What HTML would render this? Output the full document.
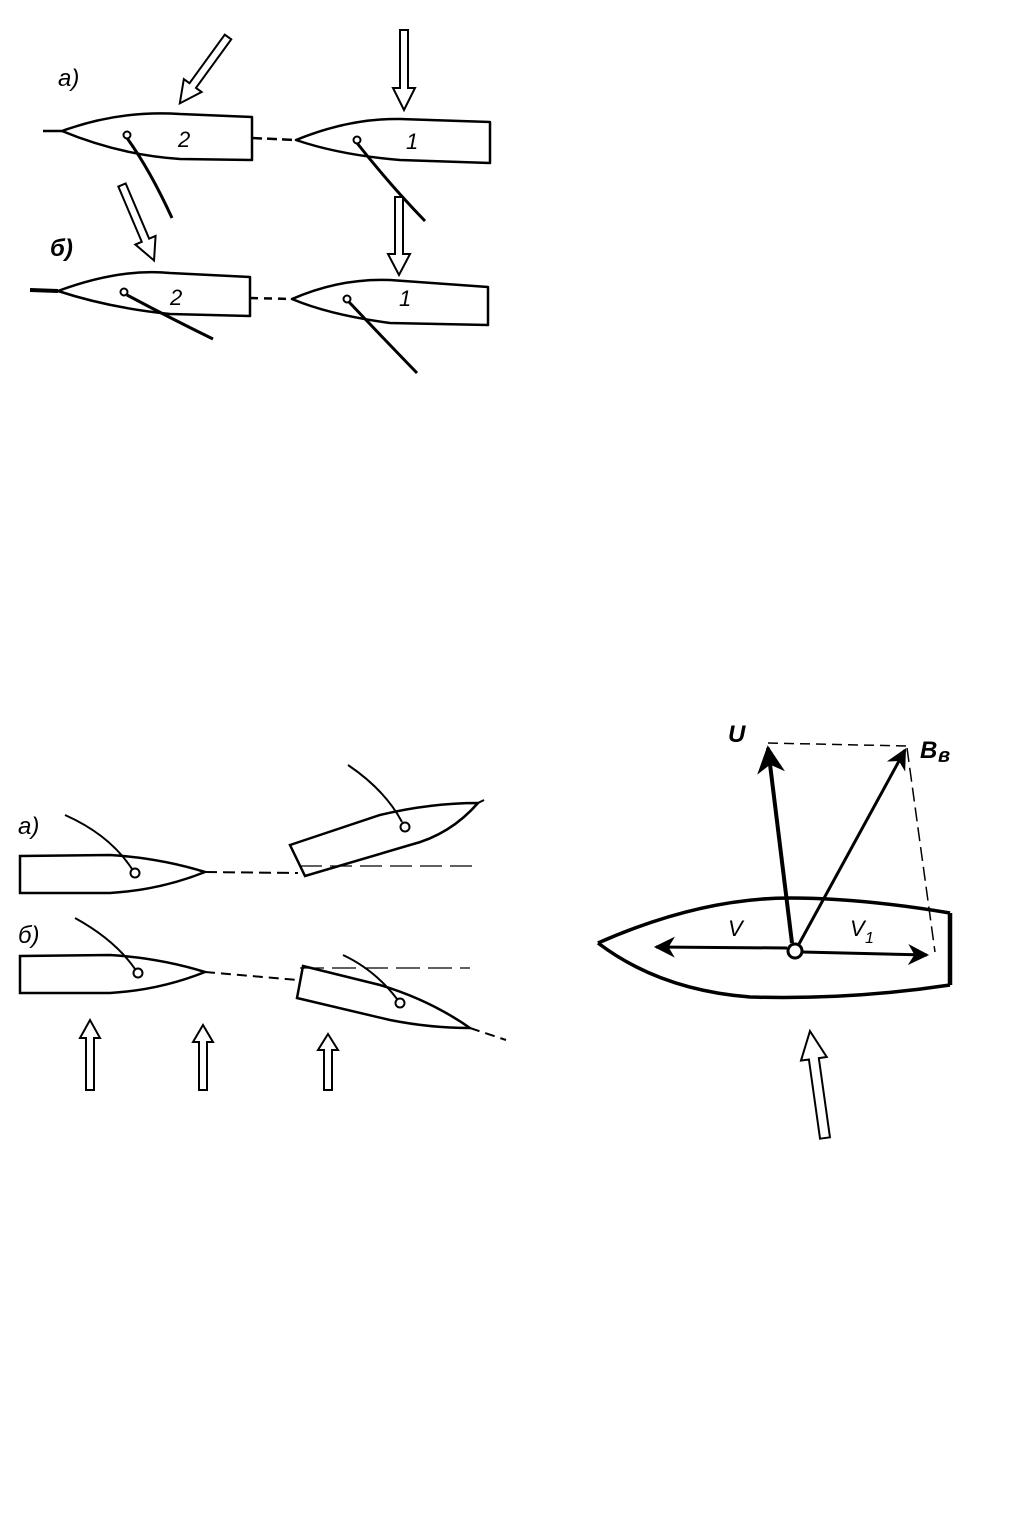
<!DOCTYPE html>
<html><head><meta charset="utf-8"><style>html,body{margin:0;padding:0;background:#fff}svg{display:block}text{font-family:"Liberation Sans","DejaVu Sans",sans-serif;font-style:italic}</style></head>
<body>
<svg width="1032" height="1531" viewBox="0 0 1032 1531" xmlns="http://www.w3.org/2000/svg">
<defs>
<marker id="ah" viewBox="0 0 10 10" refX="9" refY="5" markerWidth="7" markerHeight="7" orient="auto-start-reverse"><path d="M0,0 L10,5 L0,10 L3,5 Z" fill="#000"/></marker>
</defs>
<g fill="none" stroke="#000" stroke-width="2.5" stroke-linejoin="round">
<text x="58" y="86" font-size="24" fill="#000" stroke="none">а)</text>
<line x1="43" y1="131" x2="62" y2="131"/>
<path d="M62,131 Q120,110 180,114 L252,117 L252,160 L180,159 Q120,155 62,131 Z"/>
<circle cx="127" cy="135" r="3.5" stroke-width="2"/>
<path d="M127,138 Q150,170 172,218" stroke-width="3"/>
<text x="178" y="147" font-size="22" fill="#000" stroke="none">2</text>
<line x1="252" y1="138" x2="296" y2="140" stroke-dasharray="10 5"/>
<path d="M296,140 Q350,118 400,119 L490,122 L490,163 L400,160 Q340,155 296,140 Z"/>
<circle cx="357" cy="140" r="3.5" stroke-width="2"/>
<path d="M357,143 Q390,185 425,221" stroke-width="3"/>
<text x="406" y="149" font-size="22" fill="#000" stroke="none">1</text>
<text x="50" y="256" font-size="24" fill="#000" stroke="none" font-weight="bold">б)</text>
<line x1="30" y1="290" x2="58" y2="291" stroke-width="4"/>
<path d="M58,291 Q120,268 170,273 L250,277 L250,316 L170,314 Q110,308 58,291 Z"/>
<circle cx="124" cy="292" r="3.5" stroke-width="2"/>
<path d="M127,295 Q170,318 213,339" stroke-width="3"/>
<text x="170" y="305" font-size="22" fill="#000" stroke="none">2</text>
<line x1="250" y1="298" x2="292" y2="299" stroke-dasharray="8 6"/>
<path d="M292,299 Q340,278 390,280 L488,287 L488,325 L390,323 Q330,315 292,299 Z"/>
<circle cx="347" cy="299" r="3.5" stroke-width="2"/>
<path d="M349,302 Q385,340 417,373" stroke-width="3"/>
<text x="399" y="306" font-size="22" fill="#000" stroke="none">1</text>
</g>
<g fill="#fff" stroke="#000" stroke-width="2">
<polygon transform="translate(228,37) rotate(216)" points="-4,0 4,0 4,-60 11,-60 0,-82 -11,-60 -4,-60"/>
<polygon transform="translate(404,30) rotate(180)" points="-4,0 4,0 4,-58 11,-58 0,-80 -11,-58 -4,-58"/>
<polygon transform="translate(122,185) rotate(157)" points="-4,0 4,0 4,-60 11,-60 0,-82 -11,-60 -4,-60"/>
<polygon transform="translate(399,197) rotate(180)" points="-4,0 4,0 4,-57 11,-57 0,-78 -11,-57 -4,-57"/>
<polygon transform="translate(90,1090)" points="-4,0 4,0 4,-52 10,-52 0,-70 -10,-52 -4,-52"/>
<polygon transform="translate(203,1090)" points="-4,0 4,0 4,-48 10,-48 0,-65 -10,-48 -4,-48"/>
<polygon transform="translate(328,1090)" points="-4,0 4,0 4,-40 10,-40 0,-56 -10,-40 -4,-40"/>
<polygon transform="translate(825,1138) rotate(-8)" points="-5,0 5,0 5,-80 13,-80 0,-108 -13,-80 -5,-80"/>
</g>
<g fill="none" stroke="#000" stroke-width="2">
<text x="18" y="834" font-size="24" fill="#000" stroke="none">а)</text>
<path d="M20,856 L110,855 Q160,858 205,872 Q160,890 110,893 L20,893 Z" stroke-width="2.5"/>
<circle cx="135" cy="873" r="4.5"/>
<path d="M65,815 Q110,835 132,869"/>
<line x1="205" y1="872" x2="298" y2="873" stroke-dasharray="12 6"/>
<line x1="300" y1="866" x2="478" y2="866" stroke-dasharray="22 8" stroke-width="1.3"/>
<path d="M290,845 L380,815 Q430,803 478,803 Q450,835 410,845 L305,876 Z" stroke-width="2.5"/>
<line x1="478" y1="803" x2="484" y2="800"/>
<circle cx="405" cy="827" r="4.5"/>
<path d="M348,765 Q385,790 402,822"/>
<text x="18" y="943" font-size="24" fill="#000" stroke="none">б)</text>
<path d="M20,956 L110,955 Q160,958 205,972 Q160,990 110,993 L20,993 Z" stroke-width="2.5"/>
<circle cx="138" cy="973" r="4.5"/>
<path d="M75,918 Q115,940 135,969"/>
<line x1="205" y1="972" x2="298" y2="980" stroke-dasharray="10 6"/>
<line x1="300" y1="968" x2="470" y2="968" stroke-width="1.3" stroke-dasharray="24 8"/>
<path d="M303,966 L380,985 Q430,1000 470,1028 Q430,1028 390,1020 L297,998 Z" stroke-width="2.5"/>
<line x1="470" y1="1028" x2="506" y2="1040" stroke-dasharray="10 6"/>
<circle cx="400" cy="1003" r="4.5"/>
<path d="M343,955 Q375,970 397,999"/>
</g>
<g fill="none" stroke="#000">
<path d="M598,943 Q700,898 790,898 Q860,898 950,913" stroke-width="3.5"/>
<path d="M598,943 Q660,990 750,997 Q850,1000 950,985" stroke-width="3.5"/>
<line x1="950" y1="913" x2="950" y2="985" stroke-width="4.5"/>
<line x1="768" y1="743" x2="906" y2="746" stroke-width="1.5" stroke-dasharray="10 6"/>
<line x1="907" y1="748" x2="935" y2="952" stroke-width="1.5" stroke-dasharray="14 6"/>
<line x1="787" y1="948" x2="656" y2="947" stroke-width="3" marker-end="url(#ah)"/>
<line x1="802" y1="952" x2="927" y2="955" stroke-width="3" marker-end="url(#ah)"/>
<line x1="792" y1="943" x2="768" y2="748" stroke-width="4" marker-end="url(#ah)"/>
<line x1="799" y1="944" x2="905" y2="750" stroke-width="3" marker-end="url(#ah)"/>
<circle cx="795" cy="951" r="7" fill="#fff" stroke-width="3"/>
</g>
<g fill="#000" font-weight="bold">
<text x="728" y="742" font-size="24">U</text>
<text x="920" y="758" font-size="24">В</text><text x="938" y="762" font-size="20">в</text>
<text x="728" y="936" font-size="22" font-weight="normal">V</text>
<text x="850" y="936" font-size="22" font-weight="normal">V</text><text x="865" y="943" font-size="16" font-weight="normal">1</text>
</g>
</svg>
</body></html>
